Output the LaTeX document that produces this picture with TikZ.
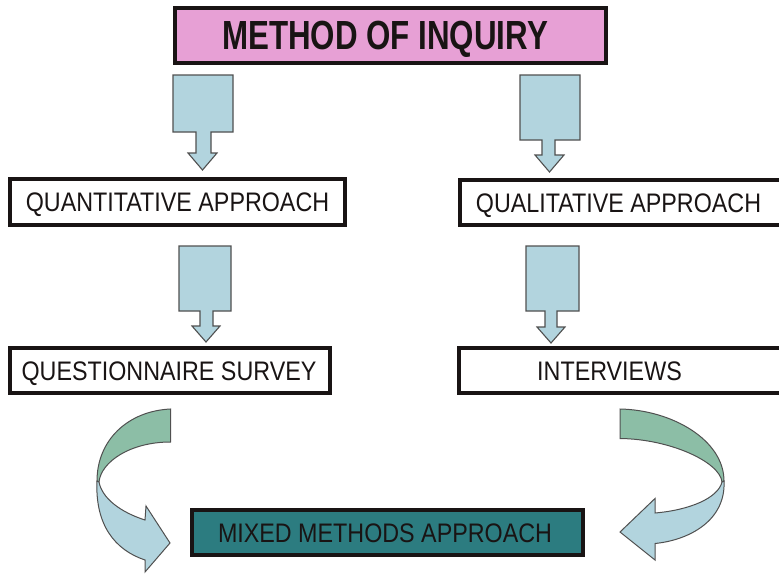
\documentclass[tikz,border=0pt]{standalone}
\usepackage{fontspec}
\setmainfont{Liberation Sans}
\definecolor{titlepink}{RGB}{231,160,213}
\definecolor{mixteal}{RGB}{44,124,128}
\definecolor{arrowblue}{RGB}{178,212,222}
\definecolor{bandgreen}{RGB}{140,190,166}
\definecolor{edgegray}{RGB}{80,80,80}
\definecolor{inkblack}{RGB}{25,20,20}
\newcommand{\tallcaps}[2]{\scalebox{1}[#1]{#2}}
\tikzset{
  box/.style={draw=inkblack, line width=4.5pt, fill=white, inner sep=0pt},
  lbl/.style={text=inkblack, inner sep=0pt, anchor=base, font=\fontsize{23.3}{28}\selectfont},
  titlelbl/.style={lbl, font=\fontsize{31.3}{36}\selectfont\bfseries},
  blockarrow/.style={draw=edgegray, line width=1.1pt, fill=arrowblue, line join=miter},
  bandback/.style={draw=edgegray, line width=1pt, fill=bandgreen},
  bandfront/.style={draw=edgegray, line width=1pt, fill=arrowblue},
}
\begin{document}
\begin{tikzpicture}[x=1pt,y=-1pt]
\useasboundingbox (0,0) rectangle (779,573);
\clip (0,0) rectangle (779,573);
\fill[white] (0,0) rectangle (779,573);

% boxes (the two on the right run past the page edge)
\node[box, fill=titlepink, minimum width=431pt, minimum height=55pt] (title) at (390.5,35.5) {};
\node[box, minimum width=335pt, minimum height=46pt] (quant) at (177.5,202) {};
\node[box, minimum width=340pt, minimum height=45pt] (qual) at (630,202.5) {};
\node[box, minimum width=320pt, minimum height=45pt] (quest) at (170,370.5) {};
\node[box, minimum width=340pt, minimum height=45pt] (interv) at (629,370.5) {};
\node[box, fill=mixteal, minimum width=391pt, minimum height=45pt] (mixed) at (387.5,532.5) {};

% labels
\node[titlelbl] (title-t) at (385,49) {\tallcaps{1.3}{METHOD OF INQUIRY}};
\node[lbl] (quant-t) at (177.5,211.5) {\tallcaps{1.15}{QUANTITATIVE APPROACH}};
\node[lbl] (qual-t) at (618.5,212) {\tallcaps{1.15}{QUALITATIVE APPROACH}};
\node[lbl] (quest-t) at (169,380) {\tallcaps{1.15}{QUESTIONNAIRE SURVEY}};
\node[lbl] (interv-t) at (609.5,380) {\tallcaps{1.15}{INTERVIEWS}};
\node[lbl] (mixed-t) at (385,542) {\tallcaps{1.15}{MIXED METHODS APPROACH}};

% down block arrows
\draw[blockarrow] (173,75) -- (233,75) -- (233,132) -- (211,132) -- (211,153) -- (217,153)
  -- (202.5,170) -- (188,153) -- (196,153) -- (196,132) -- (173,132) -- cycle;
\draw[blockarrow] (520,75) -- (580,75) -- (580,140) -- (555,140) -- (555,155) -- (564,155)
  -- (549.5,172) -- (535,155) -- (542,155) -- (542,140) -- (520,140) -- cycle;
\draw[blockarrow] (179,246) -- (231,246) -- (231,311) -- (213,311) -- (213,326) -- (220,326)
  -- (206,342) -- (192,326) -- (200,326) -- (200,311) -- (179,311) -- cycle;
\draw[blockarrow] (526,246) -- (579,246) -- (579,311) -- (557,311) -- (557,327) -- (565,327)
  -- (551,343) -- (537,327) -- (545,327) -- (545,311) -- (526,311) -- cycle;

% left twisted arrow
\draw[bandback] (170.5,409) .. controls (128,411) and (97,440) .. (97,481)
  -- (99,482) .. controls (101,462) and (130,442) .. (170.5,442) -- cycle;
\draw[bandfront] (97,481) .. controls (95,525) and (115,550) .. (145,560)
  -- (145,572) -- (170,543) -- (146,506) -- (145,520)
  .. controls (120,512) and (102,498) .. (99,482) -- cycle;

% right twisted arrow
\draw[bandback] (620,409) .. controls (672,410) and (724,440) .. (724,481)
  -- (722,482) .. controls (720,462) and (670,439) .. (620,438.5) -- cycle;
\draw[bandfront] (724,481) .. controls (726,520) and (690,540) .. (655,543.5)
  -- (655,560) -- (620,532) -- (655,498.5) -- (655,513)
  .. controls (690,510) and (718,498) .. (722,482) -- cycle;
\end{tikzpicture}
\end{document}
